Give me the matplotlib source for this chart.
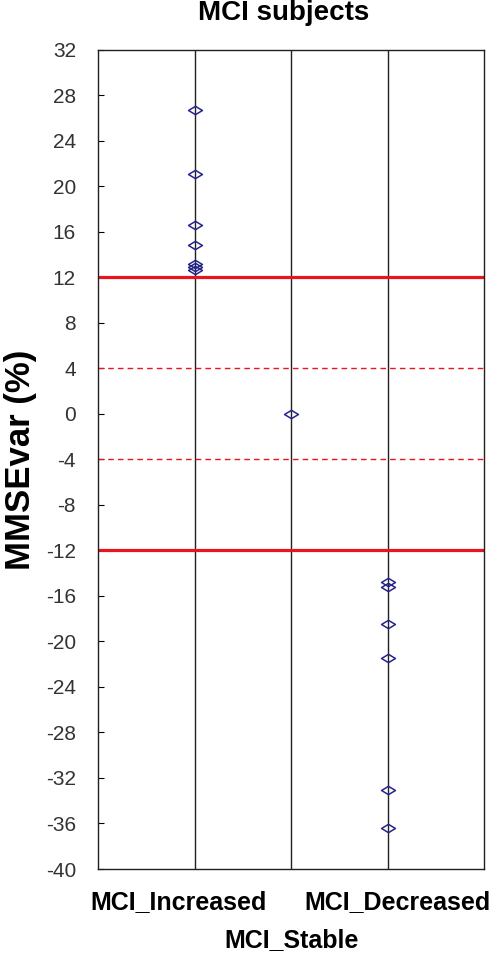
import matplotlib
matplotlib.use("Agg")
import matplotlib.pyplot as plt
from matplotlib.path import Path
import numpy as np

plt.rcParams['font.family'] = ['Liberation Sans', 'DejaVu Sans']

categories = ["MCI_Increased", "MCI_Stable", "MCI_Decreased"]
increased = [26.7, 21.1, 16.6, 14.8, 13.2, 12.9, 12.6]
stable = [0.0]
decreased = [-14.8, -15.2, -18.5, -21.5, -33.1, -36.4]
yticks = list(range(-40, 33, 4))

fig = plt.figure(figsize=(4.98, 9.56), dpi=100)
ax = fig.add_axes([0.197, 0.091, 0.775, 0.857])

verts = [(-1, 0), (0, 0.6), (1, 0), (0, -0.6), (-1, 0)]
codes = [Path.MOVETO, Path.LINETO, Path.LINETO, Path.LINETO, Path.CLOSEPOLY]
diamond = Path(verts, codes)

for i in range(len(categories)):
    ax.axvline(i + 1, color='#202020', lw=1, zorder=1)

ax.axhline(12, color='#e8141e', lw=2.3, zorder=2)
ax.axhline(-12, color='#e8141e', lw=2.3, zorder=2)
ax.axhline(4, color='#e8141e', lw=1, ls=(0, (4, 3)), zorder=2)
ax.axhline(-4, color='#e8141e', lw=1, ls=(0, (4, 3)), zorder=2)

for i, vals in enumerate([increased, stable, decreased]):
    ax.plot([i + 1] * len(vals), vals, linestyle='none', marker=diamond,
            markersize=10, markerfacecolor='none', markeredgecolor='#25258a',
            markeredgewidth=1.1, zorder=3)

ax.set_xlim(0, 4)
ax.set_ylim(-40, 32)
ax.set_yticks(yticks)
ax.set_yticklabels([str(t) for t in yticks], fontsize=15, color='#333333')
ax.set_xticks([1, 2, 3])
ax.set_xticklabels([])
ax.tick_params(axis='y', direction='in', length=4, pad=16)
ax.tick_params(axis='x', length=0)

ax.text(0.835, -42.9, categories[0], ha='center', va='center', fontsize=18, fontweight='bold')
ax.text(3.10, -42.9, categories[2], ha='center', va='center', fontsize=18, fontweight='bold')
ax.text(2, -46.25, categories[1], ha='center', va='center', fontsize=18, fontweight='bold')

ax.set_ylabel("MMSEvar (%)", fontsize=25, fontweight='bold', labelpad=6)
fig.text(0.57, 0.986, "MCI subjects", ha='center', va='center', fontsize=20, fontweight='bold')

for s in ax.spines.values():
    s.set_linewidth(1)
    s.set_color('#202020')

fig.savefig("out.png", dpi=100)
